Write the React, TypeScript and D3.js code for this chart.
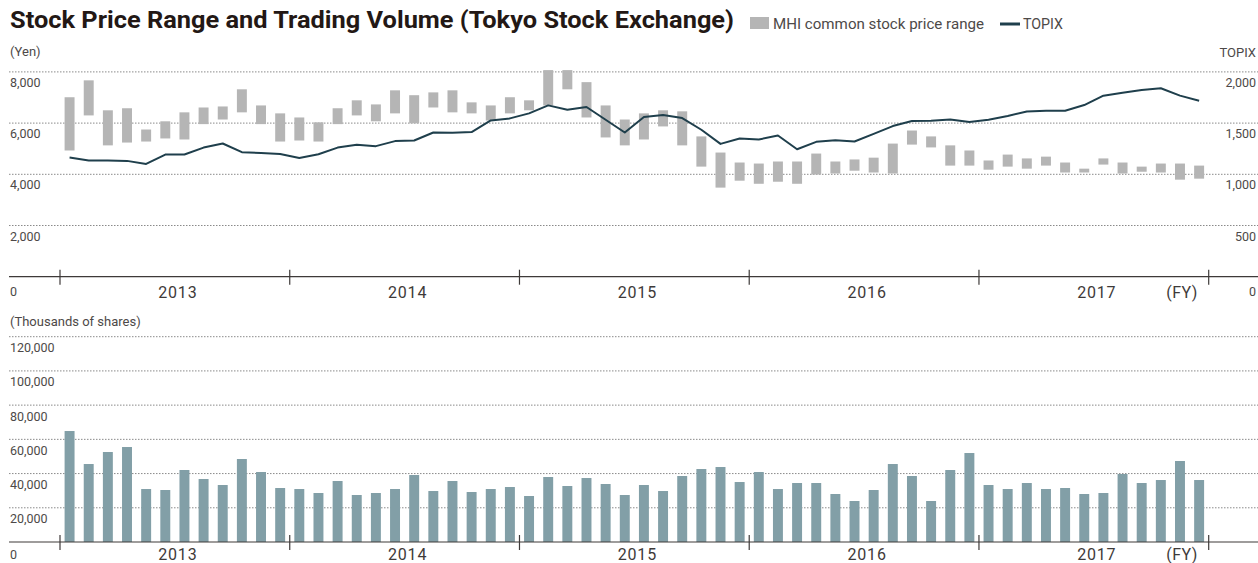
import React from "react";
import * as d3 from "d3";

const months: string[] = d3.range(60).map((i) => {
  const y = 2013 + Math.floor((i + 3) / 12);
  const m = ((i + 3) % 12) + 1;
  return `${y}-${String(m).padStart(2, "0")}`;
});

const fiscalYears = ["2013", "2014", "2015", "2016", "2017"];

const priceHigh = [
  7010, 7670, 6500, 6580, 5750, 6070, 6420, 6610, 6650, 7320, 6690, 6380,
  6220, 6030, 6580, 6890, 6730, 7280, 7090, 7200, 7280, 6810, 6690, 7010,
  6890, 8070, 8070, 7600, 6690, 6140, 6380, 6500, 6460, 5480, 4850, 4460,
  4420, 4500, 4500, 4810, 4500, 4580, 4650, 5200, 5710, 5480, 5130, 4930,
  4540, 4770, 4620, 4690, 4460, 4220, 4620, 4460, 4300, 4420, 4420, 4340,
];
const priceLow = [
  4930, 6300, 5130, 5240, 5280, 5400, 5360, 5960, 6140, 6420, 5960, 5280,
  5320, 5280, 5960, 6300, 6070, 6380, 5990, 6610, 6420, 6380, 6100, 6380,
  6500, 6690, 7320, 6220, 5440, 5130, 5360, 5870, 5130, 4300, 3480, 3750,
  3630, 3710, 3630, 3990, 4030, 4140, 4070, 4030, 5160, 5050, 4340, 4340,
  4180, 4300, 4220, 4340, 4070, 4070, 4380, 4030, 4100, 4070, 3790, 3830,
];
const topix = [
  1163, 1134, 1134, 1131, 1101, 1193, 1193, 1261, 1301, 1216, 1209, 1199,
  1160, 1196, 1261, 1288, 1275, 1324, 1330, 1408, 1405, 1412, 1526, 1546,
  1595, 1673, 1631, 1657, 1533, 1408, 1559, 1578, 1549, 1435, 1297, 1350,
  1340, 1379, 1245, 1317, 1333, 1320, 1395, 1471, 1520, 1523, 1536, 1510,
  1533, 1569, 1614, 1621, 1621, 1676, 1768, 1797, 1824, 1840, 1768, 1719,
];
const volume = [
  64870, 45580, 52600, 55520, 30970, 30390, 42080, 36820, 33310, 48510, 40910, 31560,
  30970, 28640, 35650, 27470, 28640, 30970, 39150, 29800, 35650, 29220, 30970, 32140,
  26880, 37990, 32730, 37400, 33900, 27470, 33310, 29800, 38570, 42660, 43830, 35060,
  40910, 30970, 34480, 34480, 28050, 23960, 30390, 45580, 38570, 23960, 42080, 52010,
  33310, 30970, 34480, 30970, 31560, 28050, 28640, 39740, 34480, 36230, 47340, 36230,
];

const priceTicks = [2000, 4000, 6000, 8000];
const topixTicks = [500, 1000, 1500, 2000];
const volumeTicks = [20000, 40000, 60000, 80000, 100000, 120000];

const FONT = "Roboto, 'DejaVu Sans', sans-serif";
const TEXT = "#4d4948";
const GRID = "#8a8a8a";

export default function App() {
  const W = 1258;
  const H = 563;
  const x0 = 60;
  const x1 = 1208.7;
  const left = 9;

  const x = d3.scaleBand<string>().domain(months).range([x0, x1]).paddingInner(0.48).paddingOuter(0.24);
  const xYear = d3.scaleLinear().domain([0, 5]).range([x0, x1]);

  const yPrice = d3.scaleLinear().domain([0, 8000]).range([276.7, 71.9]);
  const yTopix = d3.scaleLinear().domain([0, 2000]).range([276.7, 71.9]);
  const yVol = d3.scaleLinear().domain([0, 120000]).range([542, 336.7]);

  const cx = (m: string) => (x(m) as number) + x.bandwidth() / 2;
  const line = d3
    .line<number>()
    .x((_, i) => cx(months[i]))
    .y((d) => yTopix(d));

  const fmt = d3.format(",");

  const yearAxis = (baseY: number, labelY: number) => (
    <g>
      <line x1={left} x2={W} y1={baseY} y2={baseY} stroke="#3e3a39" strokeWidth={1.2} />
      {d3.range(6).map((i) => (
        <line key={i} x1={xYear(i)} x2={xYear(i)} y1={baseY - 7} y2={baseY + 8} stroke="#3e3a39" strokeWidth={1.2} />
      ))}
      {fiscalYears.map((fy, i) => (
        <text key={fy} x={xYear(i + 0.5) + 3} y={labelY} textAnchor="middle" fontSize={16} fill="#3e3a39" letterSpacing={0.8}>
          {fy}
        </text>
      ))}
      <text x={1182} y={labelY} textAnchor="middle" fontSize={16} fill="#3e3a39" letterSpacing={0.5}>
        (FY)
      </text>
    </g>
  );

  return (
    <svg width={W} height={H} style={{ display: "block", position: "absolute", left: 0, top: 0 }} fontFamily={FONT}>
      <rect width={W} height={H} fill="#ffffff" />
      {/* Title */}
      <text x={10} y={28} fontSize={23} fontWeight={700} fill="#231815" textLength={724} lengthAdjust="spacingAndGlyphs">
        Stock Price Range and Trading Volume (Tokyo Stock Exchange)
      </text>
      {/* Legend */}
      <rect x={750} y={17} width={19} height={12} fill="#b5b5b5" />
      <text x={773} y={29} fontSize={14.5} fill={TEXT} textLength={211} lengthAdjust="spacingAndGlyphs">
        MHI common stock price range
      </text>
      <line x1={1000} x2={1020} y1={24} y2={24} stroke="#1f3f4c" strokeWidth={3} />
      <text x={1023} y={29} fontSize={14.5} fill={TEXT} textLength={40} lengthAdjust="spacingAndGlyphs">
        TOPIX
      </text>

      {/* Top chart */}
      <text x={10} y={56} fontSize={13} fill={TEXT}>(Yen)</text>
      <text x={1256} y={57} fontSize={13} fill={TEXT} textAnchor="end">TOPIX</text>
      {priceTicks.map((t, i) => (
        <g key={t}>
          <line x1={left} x2={W} y1={yPrice(t)} y2={yPrice(t)} stroke={GRID} strokeWidth={1} strokeDasharray="1.5,1.5" />
          <text x={10} y={yPrice(t) + 15} fontSize={12.5} fill={TEXT}>{fmt(t)}</text>
          <text x={1256} y={yTopix(topixTicks[i]) + 15} fontSize={12.5} fill={TEXT} textAnchor="end">
            {fmt(topixTicks[i])}
          </text>
        </g>
      ))}
      <text x={10} y={296} fontSize={12.5} fill={TEXT}>0</text>
      <text x={1256} y={296} fontSize={12.5} fill={TEXT} textAnchor="end">0</text>
      {months.map((m, i) => (
        <rect
          key={m}
          x={x(m)}
          width={x.bandwidth()}
          y={yPrice(priceHigh[i])}
          height={yPrice(priceLow[i]) - yPrice(priceHigh[i])}
          fill="#b5b5b5"
        />
      ))}
      <path d={line(topix) || ""} fill="none" stroke="#1f3f4c" strokeWidth={2} strokeLinejoin="round" />
      {yearAxis(276.7, 298)}

      {/* Bottom chart */}
      <text x={10} y={326} fontSize={13} fill={TEXT}>(Thousands of shares)</text>
      {volumeTicks.map((t) => (
        <g key={t}>
          <line x1={left} x2={W} y1={yVol(t)} y2={yVol(t)} stroke={GRID} strokeWidth={1} strokeDasharray="1.5,1.5" />
          <text x={10} y={yVol(t) + 15.5} fontSize={12.5} fill={TEXT}>{fmt(t)}</text>
        </g>
      ))}
      {months.map((m, i) => (
        <rect key={m} x={x(m)} width={x.bandwidth()} y={yVol(volume[i])} height={yVol(0) - yVol(volume[i])} fill="#829fa7" />
      ))}
      {yearAxis(542, 559.5)}
      <text x={10} y={559} fontSize={12.5} fill={TEXT}>0</text>
    </svg>
  );
}
